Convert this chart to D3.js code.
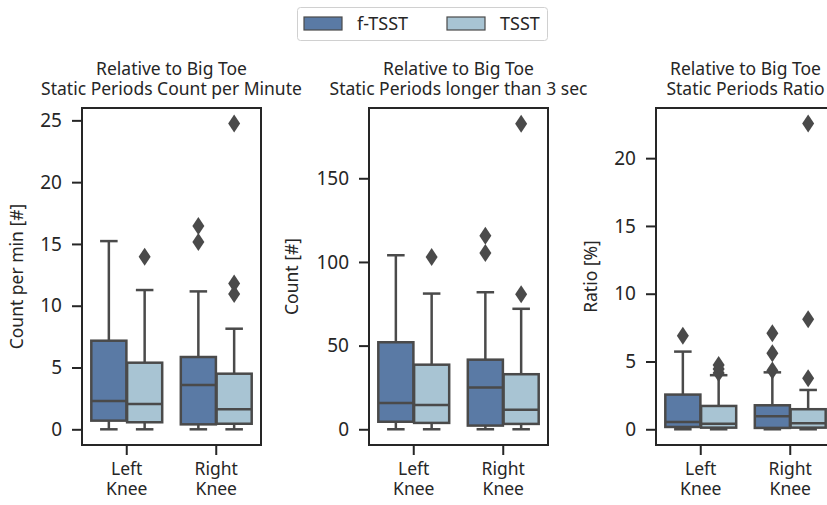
<!DOCTYPE html>
<html>
<head>
<meta charset="utf-8">
<script src="https://cdn.jsdelivr.net/npm/d3@7"></script>
<style>
  body { margin: 0; background: #fff; }
  svg { display: block; font-family: "Noto Sans", sans-serif; }
</style>
</head>
<body>
<script>
// categories and hue levels
var joints = ["Left Knee", "Right Knee"];
var conditions = ["f-TSST", "TSST"];

// box stats per joint: [low whisker, q1, median, q3, high whisker]
var countMinFTSST = [[0, 0.70, 2.29, 7.17, 15.23], [0, 0.40, 3.58, 5.85, 11.16]];
var countMinTSST = [[0, 0.57, 2.05, 5.39, 11.27], [0, 0.45, 1.62, 4.50, 8.14]];
var countMinOutFTSST = [[], [15.15, 16.45]];
var countMinOutTSST = [[13.97], [10.95, 11.8, 24.75]];

var countLongFTSST = [[0, 4.5, 15.7, 52.0, 104], [0, 2.2, 24.9, 41.6, 81.9]];
var countLongTSST = [[0, 3.8, 14.5, 38.6, 81.1], [0, 3.2, 11.7, 32.9, 72.0]];
var countLongOutFTSST = [[], [105.3, 115.6]];
var countLongOutTSST = [[102.9], [80.7, 182.6]];

var ratioFTSST = [[0, 0.17, 0.54, 2.56, 5.73], [0, 0.10, 0.96, 1.77, 4.20]];
var ratioTSST = [[0, 0.12, 0.40, 1.72, 3.99], [0, 0.12, 0.44, 1.48, 2.90]];
var ratioOutFTSST = [[6.89], [4.33, 5.61, 7.09]];
var ratioOutTSST = [[4.15, 4.45, 4.75], [3.77, 8.12, 22.55]];

// axis settings
var panelTitles = [
  ["Relative to Big Toe", "Static Periods Count per Minute"],
  ["Relative to Big Toe", "Static Periods longer than 3 sec"],
  ["Relative to Big Toe", "Static Periods Ratio"]
];
var yLabels = ["Count per min [#]", "Count [#]", "Ratio [%]"];
var yTicks = [[0, 5, 10, 15, 20, 25], [0, 50, 100, 150], [0, 5, 10, 15, 20]];
var yDomains = [[-1.27, 26.0], [-9.4, 192], [-1.16, 23.7]];

var panels = [
  { stats: [countMinFTSST, countMinTSST], outs: [countMinOutFTSST, countMinOutTSST] },
  { stats: [countLongFTSST, countLongTSST], outs: [countLongOutFTSST, countLongOutTSST] },
  { stats: [ratioFTSST, ratioTSST], outs: [ratioOutFTSST, ratioOutTSST] }
];

var W = 827, H = 505;
var fillColors = ["#5a7aa5", "#a8c4d3"];
var edgeColor = "#4a4a4a";
var textColor = "#262626";

var panelLeft = [82, 369, 656];
var panelWidth = 179;
var plotTop = 108, plotBottom = 445;

var svg = d3.select("body").append("svg")
    .attr("width", W)
    .attr("height", H);

var diamond = "M0,-9L6,0L0,9L-6,0Z";

panels.forEach(function (p, pi) {
    var g = svg.append("g")
        .attr("transform", "translate(" + panelLeft[pi] + ",0)");

    var x = d3.scaleBand()
        .domain(joints)
        .range([0, panelWidth])
        .padding(0);
    var bw = x.bandwidth();
    var hue = d3.scaleBand()
        .domain(conditions)
        .range([-0.4 * bw, 0.4 * bw]);
    var boxW = hue.bandwidth() * 0.98;

    var y = d3.scaleLinear()
        .domain(yDomains[pi])
        .range([plotBottom, plotTop]);

    // boxes
    conditions.forEach(function (c, ci) {
        var data = p.stats[ci].map(function (s, ji) { return { joint: joints[ji], s: s }; });
        var gg = g.append("g");
        var cx = function (d) { return x(d.joint) + bw / 2 + hue(c) + hue.bandwidth() / 2; };

        // whiskers
        gg.selectAll(".wlo").data(data).enter().append("line")
            .attr("x1", cx).attr("x2", cx)
            .attr("y1", function (d) { return y(d.s[1]); })
            .attr("y2", function (d) { return y(d.s[0]); })
            .attr("stroke", edgeColor).attr("stroke-width", 2.5);
        gg.selectAll(".whi").data(data).enter().append("line")
            .attr("x1", cx).attr("x2", cx)
            .attr("y1", function (d) { return y(d.s[3]); })
            .attr("y2", function (d) { return y(d.s[4]); })
            .attr("stroke", edgeColor).attr("stroke-width", 2.5);
        // caps
        [0, 4].forEach(function (k) {
            gg.selectAll(".cap" + k).data(data).enter().append("line")
                .attr("x1", function (d) { return cx(d) - boxW / 4; })
                .attr("x2", function (d) { return cx(d) + boxW / 4; })
                .attr("y1", function (d) { return y(d.s[k]); })
                .attr("y2", function (d) { return y(d.s[k]); })
                .attr("stroke", edgeColor).attr("stroke-width", 2.5);
        });
        // box
        gg.selectAll(".box").data(data).enter().append("rect")
            .attr("x", function (d) { return cx(d) - boxW / 2; })
            .attr("width", boxW)
            .attr("y", function (d) { return y(d.s[3]); })
            .attr("height", function (d) { return y(d.s[1]) - y(d.s[3]); })
            .attr("fill", fillColors[ci])
            .attr("stroke", edgeColor).attr("stroke-width", 2.5);
        // median
        gg.selectAll(".med").data(data).enter().append("line")
            .attr("x1", function (d) { return cx(d) - boxW / 2; })
            .attr("x2", function (d) { return cx(d) + boxW / 2; })
            .attr("y1", function (d) { return y(d.s[2]); })
            .attr("y2", function (d) { return y(d.s[2]); })
            .attr("stroke", edgeColor).attr("stroke-width", 2.5);
        // outliers
        var outs = [];
        p.outs[ci].forEach(function (arr, ji) {
            arr.forEach(function (v) { outs.push({ joint: joints[ji], v: v }); });
        });
        gg.selectAll(".out").data(outs).enter().append("path")
            .attr("d", diamond)
            .attr("transform", function (d) { return "translate(" + cx(d) + "," + y(d.v) + ")"; })
            .attr("fill", edgeColor);
    });

    // frame
    g.append("rect")
        .attr("x", 0).attr("y", plotTop)
        .attr("width", panelWidth).attr("height", plotBottom - plotTop)
        .attr("fill", "none")
        .attr("stroke", textColor).attr("stroke-width", 2);

    // y axis
    var yAxis = d3.axisLeft(y).tickValues(yTicks[pi]).tickSize(10).tickPadding(10);
    var ya = g.append("g").call(yAxis);
    ya.select(".domain").remove();
    ya.selectAll(".tick line").attr("stroke", textColor).attr("stroke-width", 2);
    ya.selectAll(".tick text").attr("fill", textColor).style("font-size", "19px")
        .style("font-family", "'Noto Sans', sans-serif");

    // x axis
    var xAxis = d3.axisBottom(x).tickSize(10).tickPadding(8);
    var xa = g.append("g").attr("transform", "translate(0," + plotBottom + ")").call(xAxis);
    xa.select(".domain").remove();
    xa.selectAll(".tick line").attr("stroke", textColor).attr("stroke-width", 2);
    xa.selectAll(".tick text").each(function (d) {
        var t = d3.select(this).text("").attr("fill", textColor)
            .style("font-size", "17.5px").style("font-family", "'Noto Sans', sans-serif");
        d.split(" ").forEach(function (w, i) {
            t.append("tspan").attr("x", 0).attr("dy", i === 0 ? "0.71em" : "1.12em").text(w);
        });
    });

    // title
    var tt = g.append("text")
        .attr("x", panelWidth / 2)
        .attr("text-anchor", "middle")
        .attr("fill", textColor)
        .style("font-size", "17.5px");
    panelTitles[pi].forEach(function (line, i) {
        tt.append("tspan").attr("x", panelWidth / 2).attr("y", 75 + i * 20).text(line);
    });

    // y label
    var yl = [-59, -71, -59][pi];
    g.append("text")
        .attr("transform", "translate(" + yl + "," + ((plotTop + plotBottom) / 2) + ") rotate(-90)")
        .attr("text-anchor", "middle")
        .attr("fill", textColor)
        .style("font-size", "17.5px")
        .text(yLabels[pi]);
});

// legend
var lg = svg.append("g");
lg.append("rect")
    .attr("x", 297.5).attr("y", 7.5)
    .attr("width", 250).attr("height", 33)
    .attr("rx", 3)
    .attr("fill", "#fff")
    .attr("stroke", "#d0d0d0").attr("stroke-width", 1);
var legX = [304, 447];
conditions.forEach(function (c, i) {
    lg.append("rect")
        .attr("x", legX[i]).attr("y", 17)
        .attr("width", 38).attr("height", 13)
        .attr("fill", fillColors[i])
        .attr("stroke", edgeColor).attr("stroke-width", 1.2);
    lg.append("text")
        .attr("x", legX[i] + 53).attr("y", 30)
        .attr("fill", textColor)
        .style("font-size", "18px")
        .text(c);
});
</script>
</body>
</html>
